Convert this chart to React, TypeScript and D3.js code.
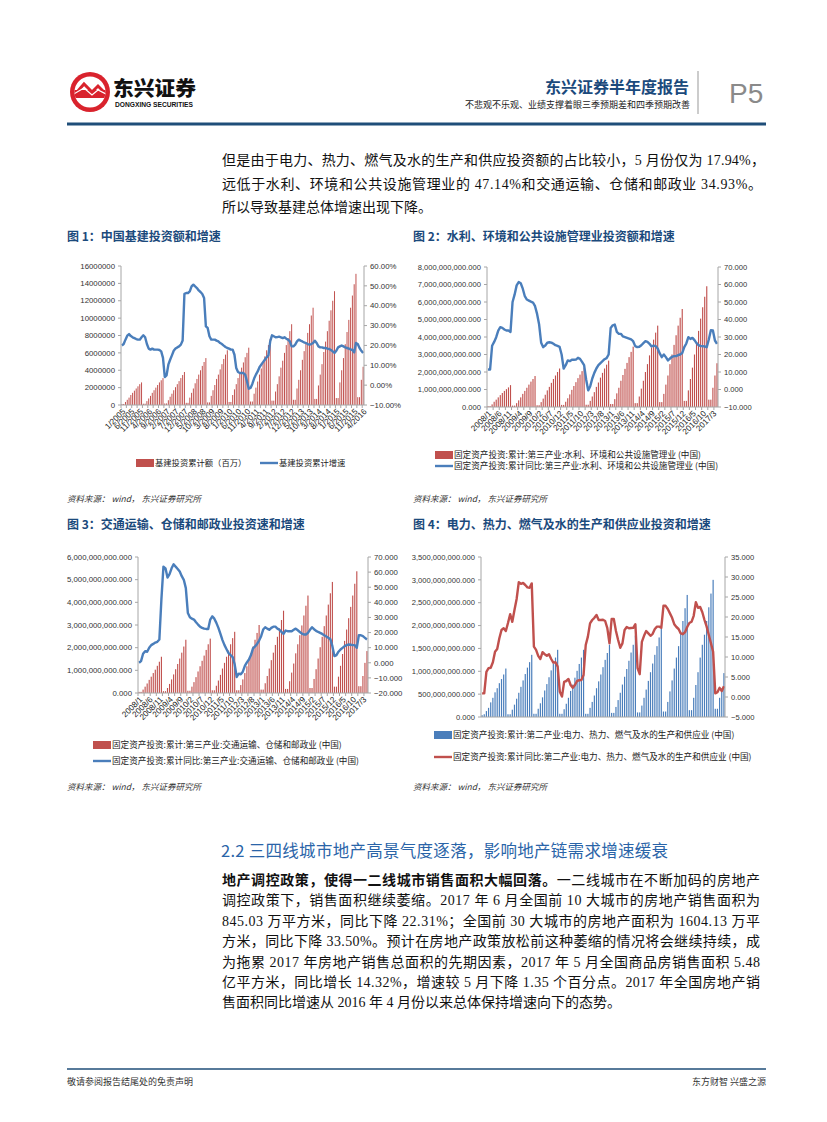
import React from "react";
import * as d3 from "d3";

const CJK = "'Noto Sans CJK SC','Noto Sans',sans-serif";
const SANS = "'Liberation Sans',Arial,'Noto Sans CJK SC',sans-serif";
const BODY = "'Liberation Serif','Noto Sans CJK SC',serif";

// ---------- categories ----------
function months(y0: number, n: number, style: "m/y" | "y/m"): string[] {
  const out: string[] = [];
  for (let i = 0; i < n; i++) {
    const y = y0 + Math.floor(i / 12);
    const m = (i % 12) + 1;
    out.push(style === "m/y" ? `${m}/${y}` : `${y}/${m}`);
  }
  return out;
}
const C1_CATS = months(2005, 136, "m/y");
const C234_CATS = months(2008, 113, "y/m");

const C1_TICK_LABELS = ["1/2005","6/2005","11/2005","4/2006","9/2006","2/2007","7/2007","12/2007","5/2008","10/2008","3/2009","8/2009","1/2010","6/2010","11/2010","4/2011","9/2011","2/2012","7/2012","12/2012","5/2013","10/2013","3/2014","8/2014","1/2015","6/2015","11/2015","4/2016"];
const C23_TICK_LABELS = ["2008/1","2008/6","2008/11","2009/4","2009/9","2010/2","2010/7","2010/12","2011/5","2011/10","2012/3","2012/8","2013/1","2013/6","2013/11","2014/4","2014/9","2015/2","2015/7","2015/12","2016/5","2016/10","2017/3"];

// ---------- chart 1: 基建投资累计额 (unit 1e6 百万) & 累计增速 % ----------
const C1_BARS = [
  0.12,0.12,0.35,0.6,0.85,1.15,1.4,1.65,1.9,2.15,2.4,2.6,
  0.15,0.15,0.45,0.75,1.05,1.4,1.7,2.0,2.3,2.6,2.85,3.1,
  0.18,0.18,0.55,0.95,1.3,1.7,2.05,2.4,2.75,3.1,3.45,3.8,
  0.25,0.25,0.85,1.4,1.9,2.5,3.0,3.5,4.0,4.5,4.95,5.4,
  0.3,0.3,1.05,1.7,2.3,3.0,3.5,4.1,4.7,5.3,5.8,6.3,
  0.35,0.35,1.15,1.8,2.4,3.1,3.7,4.3,4.9,5.5,6.0,6.6,
  0.4,0.4,1.3,2.0,2.7,3.5,4.2,4.9,5.6,6.3,6.9,7.6,
  0.5,0.5,1.55,2.4,3.3,4.3,5.1,6.0,6.9,7.7,8.5,9.3,
  0.6,0.6,1.9,2.9,4.0,5.2,6.2,7.2,8.3,9.3,10.3,11.2,
  0.7,0.7,2.25,3.5,4.7,6.1,7.3,8.5,9.7,10.9,12.0,13.1,
  0.8,0.8,2.6,4.0,5.4,7.0,8.4,9.8,11.2,12.6,13.9,15.1,
  0.9,0.9,2.9,4.4,
];
const C1_LINE = [
  20.0,20.7,22.9,24.9,25.7,24.7,24.1,23.7,23.2,22.9,22.9,24.1,
  25.1,24.1,20.7,18.4,17.9,18.4,17.9,17.9,17.9,17.7,17.0,13.7,
  4.1,4.9,10.3,12.8,15.0,17.3,18.4,19.0,19.5,20.4,22.5,46.0,
  46.4,46.4,47.2,49.7,50.6,49.7,48.9,47.7,46.9,45.9,43.9,29.6,
  28.8,24.6,22.9,22.9,22.9,22.4,22.0,21.2,20.7,19.9,19.2,18.7,
  18.4,17.9,17.9,15.3,8.6,6.6,6.1,6.1,6.1,5.3,1.9,-1.8,
  -1.4,0.6,3.3,5.3,6.9,9.0,10.3,11.6,12.8,14.0,15.0,22.0,
  25.1,24.6,24.1,24.2,24.4,24.1,23.7,24.1,23.4,22.9,22.0,19.5,
  19.5,20.4,22.0,22.9,22.4,22.0,21.5,21.2,20.7,20.4,20.7,21.2,
  22.4,21.2,19.5,19.0,19.0,18.7,18.7,18.4,18.2,17.7,17.0,16.2,
  17.3,19.0,19.5,20.0,19.5,19.0,18.7,18.4,18.0,17.7,16.5,21.2,
  20.7,18.7,17.3,16.2,
];
const C1_LEFT_TICKS = [0,2,4,6,8,10,12,14,16];
const C1_RIGHT_TICKS = [-10,0,10,20,30,40,50,60];

// ---------- chart 2: 水利、环境和公共设施管理业 (unit 1e9) ----------
const C2_BARS = [
  0.05,0.05,0.15,0.3,0.42,0.55,0.68,0.8,0.92,1.02,1.12,1.25,
  0.08,0.08,0.22,0.38,0.55,0.75,0.92,1.1,1.28,1.45,1.6,1.77,
  0.1,0.1,0.28,0.48,0.7,0.95,1.15,1.38,1.6,1.8,2.0,2.2,
  0.12,0.12,0.3,0.5,0.72,0.98,1.2,1.42,1.65,1.85,2.05,2.25,
  0.13,0.13,0.35,0.6,0.85,1.15,1.4,1.68,1.95,2.2,2.42,2.65,
  0.17,0.17,0.45,0.78,1.1,1.5,1.83,2.18,2.52,2.85,3.15,3.45,
  0.22,0.22,0.6,1.05,1.5,2.0,2.45,2.95,3.4,3.85,4.25,4.65,
  0.28,0.28,0.75,1.28,1.8,2.45,3.0,3.55,4.1,4.65,5.1,5.6,
  0.35,0.35,0.95,1.6,2.25,3.0,3.7,4.35,5.05,5.7,6.3,6.9,
  0.42,0.42,1.1,1.8,2.5,
];
const C2_LINE = [
  11.4,11.4,25.0,27.2,29.9,33.7,35.6,35.2,34.3,33.7,33.7,32.9,
  50.0,54.2,59.5,61.4,60.7,57.6,53.3,51.4,50.8,50.2,49.7,47.6,
  43.2,37.1,26.7,24.2,25.1,26.7,27.0,26.8,26.1,25.3,24.9,24.4,
  20.0,12.0,13.9,16.6,16.2,17.0,17.0,17.1,18.1,17.5,15.8,13.9,
  5.7,-0.5,1.9,6.3,9.5,12.0,13.9,15.1,16.2,17.3,17.9,20.0,
  35.2,36.7,37.1,32.9,31.8,31.8,30.3,29.9,29.5,29.1,28.6,27.6,
  24.8,24.2,24.4,25.3,26.5,27.6,27.2,26.1,24.6,25.1,24.8,23.4,
  20.6,18.5,20.0,18.5,16.6,17.7,18.7,19.1,19.1,19.6,20.0,20.8,
  24.2,26.3,29.9,28.9,29.5,28.2,26.5,25.3,24.8,24.8,24.6,24.2,
  28.6,33.9,33.7,28.0,26.1,
];
const C2_LEFT_TICKS = [0,1,2,3,4,5,6,7,8];
const C2_RIGHT_TICKS = [-10,0,10,20,30,40,50,60,70];

// ---------- chart 3: 交通运输、仓储和邮政业 (unit 1e9) ----------
const C3_BARS = [
  0.05,0.05,0.15,0.28,0.42,0.58,0.72,0.88,1.03,1.2,1.38,1.6,
  0.08,0.08,0.22,0.4,0.6,0.82,1.05,1.28,1.52,1.78,2.05,2.35,
  0.1,0.1,0.28,0.48,0.7,0.95,1.18,1.42,1.65,1.9,2.15,2.4,
  0.12,0.12,0.32,0.55,0.8,1.08,1.33,1.6,1.87,2.15,2.42,2.7,
  0.12,0.12,0.35,0.6,0.88,1.18,1.46,1.75,2.05,2.35,2.65,3.0,
  0.15,0.15,0.43,0.75,1.08,1.45,1.78,2.12,2.48,2.85,3.22,3.63,
  0.18,0.18,0.52,0.9,1.3,1.75,2.15,2.55,2.98,3.42,3.85,4.3,
  0.22,0.22,0.62,1.05,1.52,2.02,2.48,2.95,3.42,3.9,4.4,4.9,
  0.28,0.28,0.72,1.2,1.72,2.3,2.8,3.3,3.8,4.3,4.82,5.37,
  0.3,0.3,0.75,1.33,1.85,
];
const C3_LINE = [
  0.0,1.1,6.0,7.7,7.3,9.9,11.7,12.5,13.4,13.9,15.4,42.0,
  63.6,62.5,56.4,58.6,62.5,65.2,63.6,62.1,60.4,57.3,54.9,49.4,
  32.9,30.1,29.2,28.6,26.8,25.3,23.9,23.1,22.6,22.4,22.4,28.6,
  30.7,29.2,26.4,23.1,19.1,15.0,11.7,9.0,6.4,5.1,3.8,-1.1,
  -9.4,-7.2,-7.6,-5.9,-2.1,0.3,2.2,5.1,9.5,10.8,12.5,14.7,
  17.6,22.0,23.5,22.6,21.8,23.1,23.9,23.9,22.6,21.8,20.4,19.1,
  21.3,20.9,20.9,20.9,21.8,22.6,21.5,20.4,19.3,18.7,18.7,19.8,
  21.8,23.5,22.2,21.1,20.4,19.8,19.1,18.2,17.4,16.5,15.6,11.0,
  4.4,5.1,7.3,8.8,9.9,11.0,11.7,12.1,11.9,11.7,11.7,9.9,
  18.2,18.2,17.6,16.5,15.4,
];
const C3_LEFT_TICKS = [0,1,2,3,4,5,6];
const C3_RIGHT_TICKS = [-20,-10,0,10,20,30,40,50,60,70];

// ---------- chart 4: 电力、热力、燃气及水的生产和供应业 (unit 1e9) ----------
const C4_BARS = [
  0.04,0.06,0.13,0.2,0.32,0.42,0.54,0.63,0.74,0.83,0.93,1.06,
  0.06,0.06,0.16,0.27,0.4,0.53,0.66,0.8,0.94,1.08,1.2,1.36,
  0.07,0.07,0.18,0.3,0.43,0.58,0.72,0.87,1.02,1.17,1.3,1.47,
  0.07,0.07,0.17,0.29,0.42,0.57,0.71,0.86,1.01,1.16,1.3,1.47,
  0.07,0.07,0.2,0.33,0.47,0.63,0.78,0.93,1.09,1.25,1.4,1.58,
  0.09,0.09,0.22,0.37,0.53,0.71,0.88,1.05,1.23,1.41,1.58,1.78,
  0.1,0.1,0.25,0.42,0.6,0.79,0.98,1.17,1.36,1.55,1.74,1.95,
  0.12,0.12,0.33,0.56,0.8,1.06,1.3,1.55,1.82,2.1,2.38,2.67,
  0.15,0.15,0.42,0.7,0.98,1.3,1.58,1.8,2.1,2.4,2.7,3.0,
  0.18,0.18,0.42,0.62,0.96,
];
const C4_LINE = [
  0.9,0.9,6.3,7.2,7.3,8.7,11.3,12.0,14.7,16.75,17.2,16.5,
  18.5,20.7,18.8,21.75,24.5,28.7,28.3,28.5,28.0,27.4,27.3,28.4,
  12.6,11.8,10.3,9.5,11.2,10.7,10.3,10.7,9.5,8.6,8.7,7.6,
  1.3,0.1,3.8,4.0,4.5,3.0,2.3,3.0,4.0,4.2,4.25,5.5,
  13.0,15.1,18.4,19.25,19.8,20.5,19.25,19.25,19.3,19.0,17.2,13.4,
  19.5,19.5,16.5,14.25,12.3,13.4,16.75,17.5,17.2,17.25,17.3,18.2,
  7.2,5.7,13.8,15.3,16.5,15.9,15.3,15.8,17.0,17.6,17.6,17.3,
  22.8,22.8,22.0,20.9,19.8,18.2,17.5,17.0,15.9,15.7,16.2,17.5,
  18.5,18.8,20.3,23.7,22.3,22.5,21.2,19.25,17.6,15.5,13.4,11.3,
  0.9,1.2,2.3,1.5,2.7,
];
const C4_LEFT_TICKS = [0,0.5,1,1.5,2,2.5,3,3.5];
const C4_RIGHT_TICKS = [-5,0,5,10,15,20,25,30,35];

// ---------- text ----------
const P1_LINES = [
  "但是由于电力、热力、燃气及水的生产和供应投资额的占比较小，5 月份仅为 17.94%，",
  "远低于水利、环境和公共设施管理业的 47.14%和交通运输、仓储和邮政业 34.93%。",
  "所以导致基建总体增速出现下降。",
];
const P2_BOLD = "地产调控政策，使得一二线城市销售面积大幅回落。";
const P2_LINES = [
  "一二线城市在不断加码的房地产",
  "调控政策下，销售面积继续萎缩。2017 年 6 月全国前 10 大城市的房地产销售面积为",
  "845.03 万平方米，同比下降 22.31%；全国前 30 大城市的房地产面积为 1604.13 万平",
  "方米，同比下降 33.50%。预计在房地产政策放松前这种萎缩的情况将会继续持续，成",
  "为拖累 2017 年房地产销售总面积的先期因素，2017 年 5 月全国商品房销售面积 5.48",
  "亿平方米，同比增长 14.32%，增速较 5 月下降 1.35 个百分点。2017 年全国房地产销",
  "售面积同比增速从 2016 年 4 月份以来总体保持增速向下的态势。",
];

const RED = "#C0504D";
const BLUE = "#4A7EBB";
const AXIS = "#A6A6A6";
const TITLE_BLUE = "#1B4A7C";

type ChartProps = {
  x0: number; x1: number; yTop: number; yBot: number;
  cats: string[]; bars: number[]; line: number[];
  leftMax: number; leftTicks: number[]; leftFmt: (v: number) => string;
  rightMin: number; rightMax: number; rightTicks: number[]; rightFmt: (v: number) => string;
  barColor: string; lineColor: string;
  tickLabels?: string[]; fs: number;
};

function Chart(p: ChartProps) {
  const x = d3.scaleBand<string>().domain(p.cats).range([p.x0, p.x1]).padding(0);
  const step = x.step();
  const yL = d3.scaleLinear().domain([0, p.leftMax]).range([p.yBot, p.yTop]);
  const yR = d3.scaleLinear().domain([p.rightMin, p.rightMax]).range([p.yBot, p.yTop]);
  const bw = step * 0.55;
  const lineGen = d3
    .line<number>()
    .x((_, i) => (x(p.cats[i]) as number) + step / 2)
    .y((v) => yR(v));
  return (
    <g>
      {p.bars.map((v, i) => (
        <rect key={i} x={(x(p.cats[i]) as number) + (step - bw) / 2} y={yL(v)} width={bw} height={p.yBot - yL(v)} fill={p.barColor} />
      ))}
      <path d={lineGen(p.line) as string} fill="none" stroke={p.lineColor} strokeWidth={2.4} strokeLinejoin="round" />
      {/* left axis */}
      <line x1={p.x0} x2={p.x0} y1={p.yTop} y2={p.yBot} stroke={AXIS} strokeWidth={1} />
      {p.leftTicks.map((t) => (
        <g key={"l" + t}>
          <line x1={p.x0 - 3} x2={p.x0} y1={yL(t)} y2={yL(t)} stroke={AXIS} />
          <text x={p.x0 - 6} y={yL(t)} dy="0.35em" textAnchor="end" fontSize={p.fs} fontFamily={SANS} fill="#333">{p.leftFmt(t)}</text>
        </g>
      ))}
      {/* right axis */}
      <line x1={p.x1} x2={p.x1} y1={p.yTop} y2={p.yBot} stroke={AXIS} strokeWidth={1} />
      {p.rightTicks.map((t) => (
        <g key={"r" + t}>
          <line x1={p.x1} x2={p.x1 + 3} y1={yR(t)} y2={yR(t)} stroke={AXIS} />
          <text x={p.x1 + 6} y={yR(t)} dy="0.35em" textAnchor="start" fontSize={p.fs} fontFamily={SANS} fill="#333">{p.rightFmt(t)}</text>
        </g>
      ))}
      {/* bottom axis */}
      <line x1={p.x0} x2={p.x1} y1={p.yBot} y2={p.yBot} stroke={AXIS} strokeWidth={1} />
      {p.tickLabels &&
        p.cats.map((c, i) =>
          i % 3 === 0 ? <line key={"bt" + i} x1={x(c) as number} x2={x(c) as number} y1={p.yBot} y2={p.yBot + 3} stroke={AXIS} /> : null
        )}
      {p.tickLabels &&
        p.tickLabels.map((lab) => {
          const cx = (x(lab) as number) + step / 2;
          return (
            <text key={"x" + lab} transform={`translate(${cx + 2},${p.yBot + 5}) rotate(-45)`} textAnchor="end" dy="0.35em" fontSize={8.2} fontFamily={SANS} fill="#222">{lab}</text>
          );
        })}
    </g>
  );
}

function LegendBox({ x, y, color, text, fs }: { x: number; y: number; color: string; text: string; fs: number }) {
  return (
    <g>
      <rect x={x} y={y - 4} width={18} height={8} fill={color} />
      <text x={x + 19} y={y} dy="0.35em" fontSize={fs} fontFamily={CJK} fill="#222">{text}</text>
    </g>
  );
}
function LegendLine({ x, y, color, text, fs }: { x: number; y: number; color: string; text: string; fs: number }) {
  return (
    <g>
      <line x1={x} x2={x + 18} y1={y} y2={y} stroke={color} strokeWidth={2.4} />
      <text x={x + 19} y={y} dy="0.35em" fontSize={fs} fontFamily={CJK} fill="#222">{text}</text>
    </g>
  );
}

function Source({ x, y }: { x: number; y: number }) {
  return (
    <text x={x} y={y} fontSize={8.5} fontFamily={CJK} fontStyle="italic" fill="#333">
      资料来源： wind， 东兴证券研究所
    </text>
  );
}

const fmtPct = (v: number) => d3.format(".2f")(v) + "%";
const fmt3 = (v: number) => d3.format(".3f")(v);
const fmtBig = (v: number) => d3.format(",.3f")(v * 1e9);

export default function App() {
  return (
    <svg width={827} height={1122} style={{ position: "absolute", left: 0, top: 0, display: "block", background: "#fff" }}>
      <rect x={0} y={0} width={827} height={1122} fill="#fff" />
      {/* header logo */}
      <g>
        <circle cx={90} cy={92} r={20} fill="#D9232D" />
        <circle cx={90} cy={92} r={15.5} fill="#fff" />
        <clipPath id="logoClip"><circle cx={90} cy={92} r={15.5} /></clipPath>
        <g clipPath="url(#logoClip)">
          <rect x={70} y={90} width={40} height={8} fill="#D9232D" />
          <path d="M72,98 L84,84 L92,92 L98,86 L112,100" fill="none" stroke="#D9232D" strokeWidth={3} />
          <path d="M72,95 L84,88 L92,95 L98,90 L112,97" fill="none" stroke="#fff" strokeWidth={1.2} />
        </g>
        <text x={113} y={96} fontSize={20} fontWeight={900} fontFamily={CJK} fill="#111" textLength={83} lengthAdjust="spacingAndGlyphs">东兴证券</text>
        <text x={115} y={107} fontSize={6.5} fontWeight={700} fontFamily={SANS} fill="#111" textLength={78} lengthAdjust="spacingAndGlyphs">DONGXING SECURITIES</text>
      </g>
      <text x={689} y={93} textAnchor="end" fontSize={16} fontWeight={700} fontFamily={CJK} fill={TITLE_BLUE}>东兴证券半年度报告</text>
      <text x={690} y={108} textAnchor="end" fontSize={9} fontFamily={CJK} fill="#222">不悲观不乐观、业绩支撑着眼三季预期差和四季预期改善</text>
      <line x1={698} x2={698} y1={71} y2={114} stroke="#999" strokeWidth={1} />
      <text x={729} y={103} fontSize={28} fontFamily={SANS} fill="#8A8A8A">P5</text>
      <line x1={67} x2={766} y1={124} y2={124} stroke="#1F4E79" strokeWidth={3} />

      {/* paragraph 1 */}
      {P1_LINES.map((t, i) => (
        <text key={i} x={222} y={165 + i * 23.5} fontSize={14} fontFamily={BODY} fill="#111" {...(i < 2 ? { textLength: i === 0 ? 543 : 540, lengthAdjust: "spacing" } : {})}>{t}</text>
      ))}

      {/* chart titles */}
      <text x={67} y={240.5} fontSize={12} fontWeight={700} fontFamily={CJK} fill={TITLE_BLUE}>图 1：中国基建投资额和增速</text>
      <text x={413} y={240.5} fontSize={12} fontWeight={700} fontFamily={CJK} fill={TITLE_BLUE}>图 2：水利、环境和公共设施管理业投资额和增速</text>
      <text x={67} y={528.5} fontSize={12} fontWeight={700} fontFamily={CJK} fill={TITLE_BLUE}>图 3：交通运输、仓储和邮政业投资速和增速</text>
      <text x={413} y={528.5} fontSize={12} fontWeight={700} fontFamily={CJK} fill={TITLE_BLUE}>图 4：电力、热力、燃气及水的生产和供应业投资和增速</text>

      {/* chart 1 */}
      <Chart x0={121} x1={364} yTop={266} yBot={405} cats={C1_CATS} bars={C1_BARS} line={C1_LINE}
        leftMax={16} leftTicks={C1_LEFT_TICKS} leftFmt={(v) => String(v * 1000000)}
        rightMin={-10} rightMax={60} rightTicks={C1_RIGHT_TICKS} rightFmt={fmtPct}
        barColor={RED} lineColor={BLUE} tickLabels={C1_TICK_LABELS} fs={7.8} />
      <LegendBox x={136} y={463} color={RED} text="基建投资累计额（百万）" fs={8.3} />
      <LegendLine x={260} y={463} color={BLUE} text="基建投资累计增速" fs={8.3} />
      <Source x={67} y={502} />

      {/* chart 2 */}
      <Chart x0={487} x1={718} yTop={267} yBot={407} cats={C234_CATS} bars={C2_BARS} line={C2_LINE}
        leftMax={8} leftTicks={C2_LEFT_TICKS} leftFmt={fmtBig}
        rightMin={-10} rightMax={70} rightTicks={C2_RIGHT_TICKS} rightFmt={fmt3}
        barColor={RED} lineColor={BLUE} tickLabels={C23_TICK_LABELS} fs={7.6} />
      <LegendBox x={435} y={455} color={RED} text="固定资产投资:累计:第三产业:水利、环境和公共设施管理业 (中国)" fs={8.6} />
      <LegendLine x={435} y={466} color={BLUE} text="固定资产投资:累计同比:第三产业:水利、环境和公共设施管理业 (中国)" fs={8.6} />
      <Source x={413} y={502} />

      {/* chart 3 */}
      <Chart x0={138} x1={368} yTop={557} yBot={693} cats={C234_CATS} bars={C3_BARS} line={C3_LINE}
        leftMax={6} leftTicks={C3_LEFT_TICKS} leftFmt={fmtBig}
        rightMin={-20} rightMax={70} rightTicks={C3_RIGHT_TICKS} rightFmt={fmt3}
        barColor={RED} lineColor={BLUE} tickLabels={C23_TICK_LABELS} fs={7.8} />
      <LegendBox x={93} y={745} color={RED} text="固定资产投资:累计:第三产业:交通运输、仓储和邮政业 (中国)" fs={8.6} />
      <LegendLine x={93} y={761} color={BLUE} text="固定资产投资:累计同比:第三产业:交通运输、仓储和邮政业 (中国)" fs={8.6} />
      <Source x={67} y={790} />

      {/* chart 4 */}
      <Chart x0={481} x1={725} yTop={557} yBot={717} cats={C234_CATS} bars={C4_BARS} line={C4_LINE}
        leftMax={3.5} leftTicks={C4_LEFT_TICKS} leftFmt={fmtBig}
        rightMin={-5} rightMax={35} rightTicks={C4_RIGHT_TICKS} rightFmt={fmt3}
        barColor={BLUE} lineColor={RED} fs={7.6} />
      <LegendBox x={434} y={735} color={BLUE} text="固定资产投资:累计:第二产业:电力、热力、燃气及水的生产和供应业 (中国)" fs={8.6} />
      <LegendLine x={434} y={757} color={RED} text="固定资产投资:累计同比:第二产业:电力、热力、燃气及水的生产和供应业 (中国)" fs={8.6} />
      <Source x={413} y={790} />

      {/* section heading */}
      <text x={221} y={857} fontSize={16.5} fontFamily={CJK} fill="#2A64A8" textLength={447} lengthAdjust="spacing">2.2 三四线城市地产高景气度逐落，影响地产链需求增速缓衰</text>

      {/* paragraph 2 */}
      <text x={222} y={885} fontSize={14} fontFamily={BODY} fill="#111" textLength={538} lengthAdjust="spacing">
        <tspan fontWeight={700}>{P2_BOLD}</tspan>
        <tspan>{P2_LINES[0]}</tspan>
      </text>
      {P2_LINES.slice(1).map((t, i) => (
        <text key={i} x={222} y={885 + (i + 1) * 20.4} fontSize={14} fontFamily={BODY} fill="#111" {...(i < 5 ? { textLength: 538, lengthAdjust: "spacing" } : {})}>{t}</text>
      ))}

      {/* footer */}
      <line x1={67} x2={766} y1={1069} y2={1069} stroke="#1F4E79" strokeWidth={1.5} />
      <text x={67} y={1085} fontSize={9} fontFamily={CJK} fill="#333">敬请参阅报告结尾处的免责声明</text>
      <text x={766} y={1085} textAnchor="end" fontSize={9} fontFamily={CJK} fill="#333">东方财智 兴盛之源</text>
    </svg>
  );
}
